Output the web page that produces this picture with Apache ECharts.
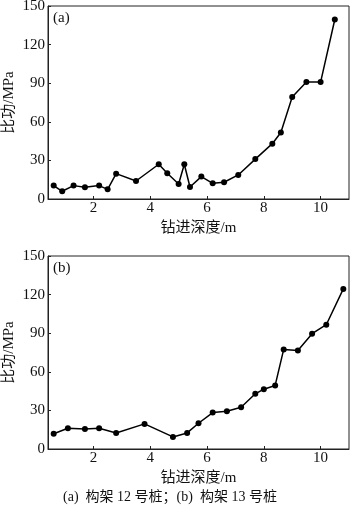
<!DOCTYPE html>
<html>
<head>
<meta charset="utf-8">
<script src="https://cdn.jsdelivr.net/npm/echarts@6/dist/echarts.min.js"></script>
<style>
  html, body { margin: 0; padding: 0; background: #fff; }
  #chart { width: 350px; height: 509px; }
</style>
</head>
<body>
<div id="chart"></div>
<script>
// Pile 12 (a): drilling depth (m) and specific work (MPa)
const depthA = [0.6, 0.9, 1.3, 1.7, 2.2, 2.5, 2.8, 3.5, 4.3, 4.6, 5.0, 5.2, 5.4, 5.8, 6.2, 6.6, 7.1, 7.7, 8.3, 8.6, 9.0, 9.5, 10.0, 10.5];
const workA  = [10.4, 6, 10.4, 9.1, 10.4, 7.5, 19.7, 14, 27, 20, 11.7, 27, 9.3, 17.4, 12.2, 13, 18.7, 31, 43, 51.7, 79.2, 90.9, 90.9, 139.5];

// Pile 13 (b)
const depthB = [0.6, 1.1, 1.7, 2.2, 2.8, 3.8, 4.8, 5.3, 5.7, 6.2, 6.7, 7.2, 7.7, 8.0, 8.4, 8.7, 9.2, 9.7, 10.2, 10.8];
const workB  = [11.9, 16.1, 15.6, 16.1, 12.5, 19.5, 9.4, 12.5, 20, 28.3, 29.4, 32.5, 42.9, 46.5, 49.4, 77.4, 76.6, 89.6, 96.6, 124.4];

const yTicks = [0, 30, 60, 90, 120, 150];
const xTicks = [2, 4, 6, 8, 10];
const yName = '比功/MPa';
const xName = '钻进深度/m';
const panelTags = ['(a)', '(b)'];
const caption = '(a)  构架 12 号桩；(b)  构架 13 号桩';

const FONT = '"Liberation Serif", "Times New Roman", "Noto Sans CJK SC", serif';

const chart = echarts.init(document.getElementById('chart'), null, { renderer: 'canvas' });

function xAxisFor(gridIndex) {
  return {
    gridIndex, type: 'value', min: 0.4, max: 11,
    name: xName, nameLocation: 'middle', nameGap: 22, nameMoveOverlap: false,
    nameTextStyle: { fontFamily: FONT, fontSize: 15, color: '#111' },
    axisLine: { show: true, lineStyle: { color: '#222', width: 1 } },
    axisTick: { show: true, inside: true, length: 3, lineStyle: { color: '#222' }, customValues: xTicks },
    axisLabel: { fontFamily: FONT, fontSize: 15, color: '#111', margin: 2, customValues: xTicks },
    splitLine: { show: false }
  };
}
function yAxisFor(gridIndex) {
  return {
    gridIndex, type: 'value', min: 0, max: 150, interval: 30,
    name: yName, nameLocation: 'middle', nameGap: 31, nameRotate: 90, nameMoveOverlap: false,
    nameTextStyle: { fontFamily: FONT, fontSize: 15, color: '#111' },
    axisLine: { show: true, lineStyle: { color: '#222', width: 1 } },
    axisTick: { show: true, inside: true, length: 3, lineStyle: { color: '#222' } },
    axisLabel: { fontFamily: FONT, fontSize: 15, color: '#111', margin: 3,
      formatter: v => (yTicks.indexOf(v) >= 0 ? String(v) : '') },
    splitLine: { show: false }
  };
}
function lineSeries(idx, xs, ys) {
  return {
    type: 'line', xAxisIndex: idx, yAxisIndex: idx,
    data: xs.map((x, i) => [x, ys[i]]),
    symbol: 'circle', symbolSize: 6,
    itemStyle: { color: '#000' },
    lineStyle: { color: '#000', width: 1.5 },
    animation: false
  };
}

const gridBase = { left: 48, right: 1, height: 193, show: true, borderColor: '#222', borderWidth: 1,
  backgroundColor: 'transparent', containLabel: false, outerBoundsMode: 'none' };

chart.setOption({
  backgroundColor: '#fff',
  animation: false,
  grid: [
    Object.assign({ top: 6 }, gridBase),
    Object.assign({ top: 256 }, gridBase)
  ],
  xAxis: [xAxisFor(0), xAxisFor(1)],
  yAxis: [yAxisFor(0), yAxisFor(1)],
  series: [lineSeries(0, depthA, workA), lineSeries(1, depthB, workB)],
  graphic: [
    { type: 'text', left: 53, top: 11, style: { text: panelTags[0], font: '15px ' + FONT, fill: '#111' } },
    { type: 'text', left: 53, top: 261, style: { text: panelTags[1], font: '15px ' + FONT, fill: '#111' } },
    { type: 'text', x: 170, y: 497, style: { text: caption, font: '14px ' + FONT, fill: '#111',
      align: 'center', verticalAlign: 'middle' } }
  ]
});
</script>
</body>
</html>
